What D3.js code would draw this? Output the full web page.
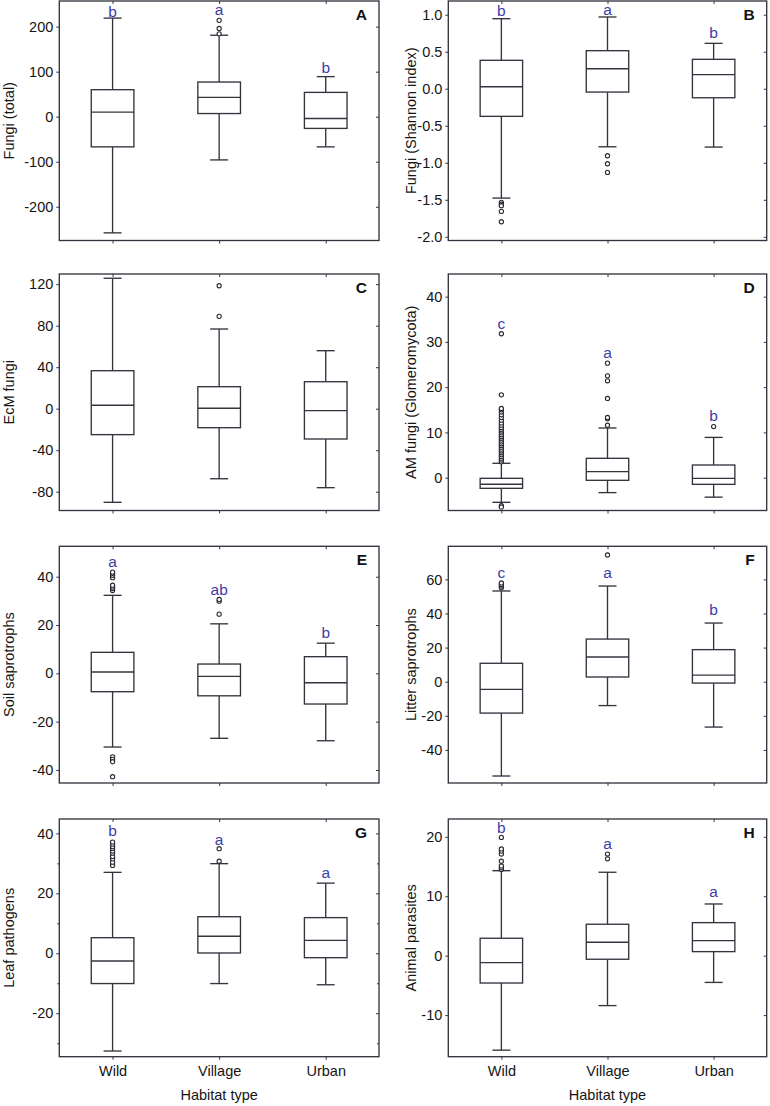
<!DOCTYPE html>
<html>
<head>
<meta charset="utf-8">
<script src="https://cdn.jsdelivr.net/npm/d3@7"></script>
<style>
  html, body { margin: 0; padding: 0; background: #fff; }
  svg { display: block; }
  text { font-family: "Liberation Sans", Arial, Helvetica, sans-serif; }
</style>
</head>
<body>
<svg id="chart" width="770" height="1106"></svg>
<script>
// ---------------- DATA ----------------
const categories = ["Wild", "Village", "Urban"];
const panelLetters = ["A", "B", "C", "D", "E", "F", "G", "H"];
const yTitles = ["Fungi (total)", "Fungi (Shannon index)", "EcM fungi", "AM fungi (Glomeromycota)",
                 "Soil saprotrophs", "Litter saprotrophs", "Leaf pathogens", "Animal parasites"];
const xTitle = "Habitat type";

const yDomains = [[-275, 257], [-2.05, 1.185], [-98.1, 129.8], [-7.25, 45.0],
                  [-45.4, 52.6], [-59.4, 79.4], [-34.5, 44.8], [-17.0, 23.0]];

const yTickLabels = [
  ["-200", "-100", "0", "100", "200"],
  ["-2.0", "-1.5", "-1.0", "-0.5", "0.0", "0.5", "1.0"],
  ["-80", "-40", "0", "40", "80", "120"],
  ["0", "10", "20", "30", "40"],
  ["-40", "-20", "0", "20", "40"],
  ["-40", "-20", "0", "20", "40", "60"],
  ["-20", "0", "20", "40"],
  ["-10", "0", "10", "20"]
];
const yMinorTicks = [[], [], [], [], [], [], [-30, -10, 10, 30], []];

// per panel: [Wild, Village, Urban]
const whiskerLow = [
  [-258, -96, -67], [-1.477, -0.784, -0.788], [-90.2, -67.5, -76.1], [-5.44, -3.3, -4.3],
  [-30.5, -26.9, -27.9], [-55.3, -14, -26.6], [-32.6, -10.1, -10.5], [-15.9, -8.4, -4.5]
];
const quartile1 = [
  [-67, 7, -26], [-0.373, -0.045, -0.122], [-25, -18.3, -29.2], [-2.35, -0.58, -1.47],
  [-7.6, -9.3, -12.7], [-18.4, 2.76, -0.8], [-10.1, 0.1, -1.47], [-4.6, -0.6, 0.68]
];
const medians = [
  [10, 43, -4], [0.027, 0.27, 0.19], [3.3, 0.4, -1.9], [-1.46, 1.33, -0.15],
  [0.55, -1.25, -3.9], [-4.5, 14.5, 3.9], [-2.57, 5.67, 4.3], [-1.18, 2.26, 2.53]
];
const quartile3 = [
  [60, 77, 54], [0.384, 0.514, 0.397], [36.6, 21.2, 26], [-0.14, 4.28, 2.8],
  [8.7, 3.85, 6.9], [10.8, 25, 18.8], [5.2, 12.2, 11.9], [2.93, 5.29, 5.56]
];
const whiskerHigh = [
  [219, 181, 89], [0.946, 0.969, 0.613], [125.7, 76.8, 55.9], [3.18, 10.98, 8.9],
  [32.3, 20.5, 12.5], [53.2, 56.1, 34.4], [27, 29.9, 23.4], [14.3, 14.04, 8.7]
];
const outliers = [
  [[], [184, 196, 214], []],
  [[-1.535, -1.56, -1.58, -1.657, -1.797], [-0.905, -1.013, -1.13], []],
  [[], [89, 118.5], []],
  [[3.5, 3.9, 4.3, 4.7, 5.1, 5.5, 5.9, 6.3, 6.7, 7.1, 7.5, 7.9, 8.3, 8.7, 9.1, 9.5, 9.9, 10.3,
    10.7, 11.1, 11.6, 12.1, 12.7, 13.3, 13.9, 14.5, 15.0, 15.3, 18.3, 31.8, -6.2, -6.5],
   [11.6, 13.0, 13.3, 17.5, 21.4, 22.5, 25.3], [11.3]],
  [[34.3, 35.1, 35.8, 36.5, 39.6, 40.6, 41.4, 41.9, -34.6, -35.6, -36.6, -42.8], [24.5, 29.9, 30.6], []],
  [[55.1, 56.1, 57, 57.9], [74.3], []],
  [[29.3, 30.4, 31.5, 32.3, 33.4, 34.1, 35, 35.6, 36.4, 37.1], [30.7, 34.9], []],
  [[14.5, 14.8, 15.1, 15.9, 17.1, 17.6, 17.96, 19.9], [16.3, 17.1], []]
];
const groupLetters = [
  ["b", "a", "b"], ["b", "a", "b"], ["", "", ""], ["c", "a", "b"],
  ["a", "ab", "b"], ["c", "a", "b"], ["b", "a", "a"], ["b", "a", "a"]
];
// value (data units) at which each letter's baseline sits
const letterAnchors = [
  [221, 226, 96.4], [0.982, 0.996, 0.681], [0, 0, 0], [32.9, 26.4, 12.5],
  [44.1, 32.4, 14.7], [60.8, 60.8, 39.1], [39.1, 36.1, 25.2], [20.6, 18.0, 9.8]
];

// ---------------- LAYOUT ----------------
const colLeft = [59.3, 448.3];
const colRight = [379, 766.7];
const colTitleX = [9, 411];
const rowTop = [1, 274, 546.3, 819];
const rowBottom = [240.5, 510.5, 783, 1056.7];

const ink = "#34343f";
const textInk = "#151515";
const letterInk = "#3d3da8";
const sw = 1.35;

const svg = d3.select("#chart");

panelLetters.forEach((pl, i) => {
  const col = i % 2, row = Math.floor(i / 2);
  const left = colLeft[col], right = colRight[col];
  const top = rowTop[row], bottom = rowBottom[row];

  const x = d3.scalePoint().domain(categories).range([left, right]).padding(0.5);
  const y = d3.scaleLinear().domain(yDomains[i]).range([bottom, top]);
  const step = x.step();
  const boxW = step * 0.4;
  const capW = 18;

  const g = svg.append("g");

  // frame
  g.append("rect")
    .attr("x", left).attr("y", top)
    .attr("width", right - left).attr("height", bottom - top)
    .attr("fill", "#fff").attr("stroke", ink).attr("stroke-width", sw);

  const tickVals = yTickLabels[i].map(Number);

  // left axis
  const ax = g.append("g").attr("transform", `translate(${left},0)`)
    .call(d3.axisLeft(y).tickValues(tickVals)
      .tickFormat((d, j) => yTickLabels[i][j]).tickSize(3).tickPadding(3));
  ax.select(".domain").remove();
  ax.selectAll("line").attr("stroke", ink).attr("stroke-width", 1);
  ax.selectAll("text").attr("font-size", 14.5).attr("fill", textInk)
    .attr("font-family", '"Liberation Sans", Arial, sans-serif');

  // minor ticks
  if (yMinorTicks[i].length) {
    const mx = g.append("g").attr("transform", `translate(${left},0)`)
      .call(d3.axisLeft(y).tickValues(yMinorTicks[i]).tickFormat("").tickSize(2));
    mx.select(".domain").remove();
    mx.selectAll("line").attr("stroke", ink).attr("stroke-width", 1);
    const mr = g.append("g").attr("transform", `translate(${right},0)`)
      .call(d3.axisRight(y).tickValues(yMinorTicks[i]).tickFormat("").tickSize(-2));
    mr.select(".domain").remove();
    mr.selectAll("line").attr("stroke", ink).attr("stroke-width", 1);
  }

  // right inward ticks
  const ar = g.append("g").attr("transform", `translate(${right},0)`)
    .call(d3.axisRight(y).tickValues(tickVals).tickFormat("").tickSize(-3));
  ar.select(".domain").remove();
  ar.selectAll("line").attr("stroke", ink).attr("stroke-width", 1);

  // top inward ticks
  const at = g.append("g").attr("transform", `translate(0,${top})`)
    .call(d3.axisTop(x).tickFormat("").tickSize(-3));
  at.select(".domain").remove();
  at.selectAll("line").attr("stroke", ink).attr("stroke-width", 1);

  // bottom axis
  const ab = g.append("g").attr("transform", `translate(0,${bottom})`)
    .call(d3.axisBottom(x).tickSize(3).tickPadding(6)
      .tickFormat(row === 3 ? (d => d) : ""));
  ab.select(".domain").remove();
  ab.selectAll("line").attr("stroke", ink).attr("stroke-width", 1);
  ab.selectAll("text").attr("font-size", 14.5).attr("fill", textInk)
    .attr("font-family", '"Liberation Sans", Arial, sans-serif');

  // y title
  g.append("text")
    .attr("transform", `translate(${colTitleX[col]},${(top + bottom) / 2}) rotate(-90)`)
    .attr("text-anchor", "middle").attr("dominant-baseline", "central")
    .attr("font-size", 14.5).attr("fill", textInk)
    .text(yTitles[i]);

  // panel letter
  g.append("text")
    .attr("x", right - 12).attr("y", top + 19)
    .attr("text-anchor", "end").attr("font-size", 15.5).attr("font-weight", "bold")
    .attr("fill", "#111").text(pl);

  // boxes
  categories.forEach((c, j) => {
    const cx = x(c);
    const bg = g.append("g");
    const L = whiskerLow[i][j], Q1 = quartile1[i][j], M = medians[i][j],
          Q3 = quartile3[i][j], H = whiskerHigh[i][j];
    bg.append("line").attr("x1", cx).attr("x2", cx).attr("y1", y(Q1)).attr("y2", y(L));
    bg.append("line").attr("x1", cx).attr("x2", cx).attr("y1", y(Q3)).attr("y2", y(H));
    bg.append("line").attr("x1", cx - capW / 2).attr("x2", cx + capW / 2).attr("y1", y(L)).attr("y2", y(L));
    bg.append("line").attr("x1", cx - capW / 2).attr("x2", cx + capW / 2).attr("y1", y(H)).attr("y2", y(H));
    bg.append("rect").attr("x", cx - boxW / 2).attr("y", y(Q3))
      .attr("width", boxW).attr("height", y(Q1) - y(Q3)).attr("fill", "#fff");
    bg.append("line").attr("x1", cx - boxW / 2).attr("x2", cx + boxW / 2).attr("y1", y(M)).attr("y2", y(M));
    bg.selectAll("line, rect").attr("stroke", ink).attr("stroke-width", sw);

    bg.selectAll("circle.o").data(outliers[i][j]).join("circle")
      .attr("class", "o")
      .attr("cx", cx).attr("cy", d => y(d)).attr("r", 2.1)
      .attr("fill", "#fff").attr("stroke", "#2a2a36").attr("stroke-width", 1.1);

    if (groupLetters[i][j]) {
      bg.append("text")
        .attr("x", cx).attr("y", y(letterAnchors[i][j]))
        .attr("text-anchor", "middle").attr("font-size", 15.5)
        .attr("fill", letterInk).text(groupLetters[i][j]);
    }
  });
});

[0, 1].forEach(col => {
  svg.append("text")
    .attr("x", (colLeft[col] + colRight[col]) / 2).attr("y", 1099.5)
    .attr("text-anchor", "middle").attr("font-size", 14.5).attr("fill", textInk)
    .text(xTitle);
});
</script>
</body>
</html>
